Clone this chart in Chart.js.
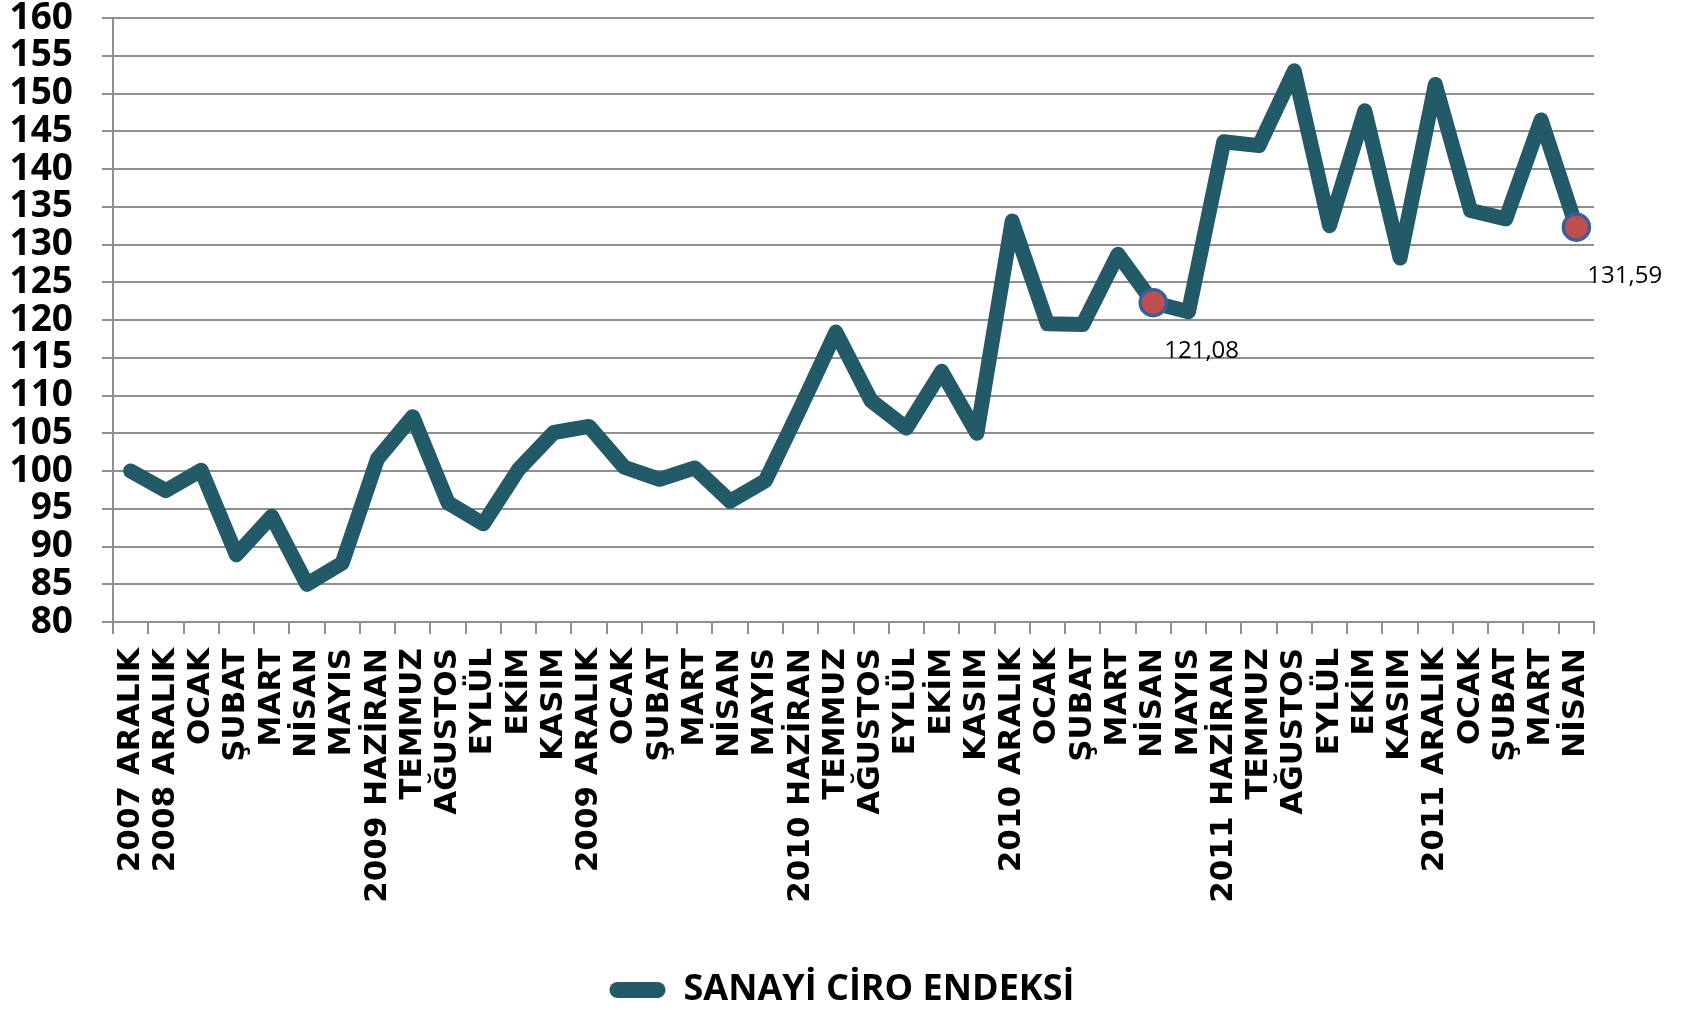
<!DOCTYPE html>
<html>
<head>
<meta charset="utf-8">
<script src="https://cdn.jsdelivr.net/npm/chart.js@4.4.1/dist/chart.umd.min.js"></script>
<style>
  html, body { margin: 0; padding: 0; background: #fff; }
  #wrap { width: 1684px; height: 1010px; position: relative; }
</style>
</head>
<body>
<div id="wrap"><canvas id="ciro"></canvas></div>
<script>
// month labels as written on the axis
const months = [
  '2007 ARALIK', '2008 ARALIK', 'OCAK', 'ŞUBAT', 'MART', 'NİSAN', 'MAYIS',
  '2009 HAZİRAN', 'TEMMUZ', 'AĞUSTOS', 'EYLÜL', 'EKİM', 'KASIM',
  '2009 ARALIK', 'OCAK', 'ŞUBAT', 'MART', 'NİSAN', 'MAYIS',
  '2010 HAZİRAN', 'TEMMUZ', 'AĞUSTOS', 'EYLÜL', 'EKİM', 'KASIM',
  '2010 ARALIK', 'OCAK', 'ŞUBAT', 'MART', 'NİSAN', 'MAYIS',
  '2011 HAZİRAN', 'TEMMUZ', 'AĞUSTOS', 'EYLÜL', 'EKİM', 'KASIM',
  '2011 ARALIK', 'OCAK', 'ŞUBAT', 'MART', 'NİSAN'
];
const ciroIndex = [
  100.0, 97.4, 100.1, 88.9, 94.0, 85.0, 87.8,
  101.6, 107.2, 95.8, 93.0, 100.2, 105.1,
  105.9, 100.5, 98.9, 100.4, 96.0, 98.7,
  108.4, 118.4, 109.3, 105.7, 113.2, 105.0,
  133.1, 119.5, 119.4, 128.7, 122.3, 121.1,
  143.6, 143.1, 153.0, 132.5, 147.7, 128.2,
  151.2, 134.5, 133.4, 146.5, 132.3
];
// the two highlighted points and their printed values
const highlightIdx = [29, 41];
const highlightText = ['121,08', '131,59'];
const yMin = 80, yMax = 160, yStep = 5;

const lineColor = '#235a68';
const gridColor = '#8f8f8f';

const pointLabels = {
  id: 'pointLabels',
  afterDatasetsDraw(chart) {
    const meta = chart.getDatasetMeta(0);
    const ctx = chart.ctx;
    ctx.save();
    ctx.font = '24px "Open Sans"';
    ctx.fillStyle = '#000';
    ctx.textAlign = 'left';
    ctx.textBaseline = 'middle';
    highlightIdx.forEach((i, k) => {
      const p = meta.data[i];
      ctx.fillText(highlightText[k], p.x + 11, p.y + 49);
    });
    ctx.restore();
  }
};

new Chart(document.getElementById('ciro'), {
  type: 'line',
  data: {
    labels: months,
    datasets: [{
      label: 'SANAYİ CİRO ENDEKSİ',
      data: ciroIndex,
      borderColor: lineColor,
      backgroundColor: lineColor,
      borderWidth: 15,
      borderJoinStyle: 'round',
      borderCapStyle: 'round',
      tension: 0,
      pointRadius: ctx => highlightIdx.includes(ctx.dataIndex) ? 13 : 0,
      pointBackgroundColor: '#c0504d',
      pointBorderColor: '#3d5f99',
      pointBorderWidth: 3.5,
      pointHoverRadius: 0,
    }],
  },
  options: {
    responsive: true, maintainAspectRatio: false, animation: false,
    devicePixelRatio: 1,
    layout: { padding: { top: 18, left: 0, right: 0, bottom: -8 } },
    plugins: {
      tooltip: { enabled: false },
      legend: {
        position: 'bottom',
        labels: {
          color: '#000',
          font: { family: '"Open Sans"', size: 36, weight: 'bold' },
          boxWidth: 56, boxHeight: 16, useBorderRadius: true, borderRadius: 8,
          padding: 10,
          generateLabels: chart => chart.data.datasets.map((ds, i) => ({
            text: ds.label, fillStyle: lineColor, strokeStyle: lineColor,
            lineWidth: 0, hidden: false, datasetIndex: i, borderRadius: 8,
          })),
        },
      },
    },
    scales: {
      x: {
        offset: true,
        grid: { display: true, drawOnChartArea: false, drawTicks: true, tickLength: 12,
                color: gridColor, lineWidth: 2, offset: true },
        border: { display: true, color: gridColor, width: 2 },
        ticks: {
          autoSkip: false, minRotation: 90, maxRotation: 90, padding: 14,
          color: '#000', font: { family: '"DejaVu Sans"', size: 31, weight: 'bold' },
        },
        afterFit: s => { s.height = 340; },
      },
      y: {
        min: yMin, max: yMax,
        grid: { color: gridColor, lineWidth: 2, tickLength: 11 },
        border: { display: true, color: gridColor, width: 2 },
        ticks: {
          stepSize: yStep, autoSkip: false, padding: 29, color: '#000',
          font: { family: '"Open Sans"', size: 37, weight: 'bold', lineHeight: 1.0 },
        },
        afterFit: s => { s.width = 113; s.paddingTop = 0; s.paddingBottom = 0; },
      },
      // empty right-hand box that keeps the plot clear of the right edge
      spacer: {
        type: 'linear', position: 'right', display: true,
        grid: { display: false }, border: { display: false }, ticks: { display: false },
        afterFit: s => { s.width = 90; },
      },
    },
  },
  plugins: [pointLabels],
});
</script>
</body>
</html>
